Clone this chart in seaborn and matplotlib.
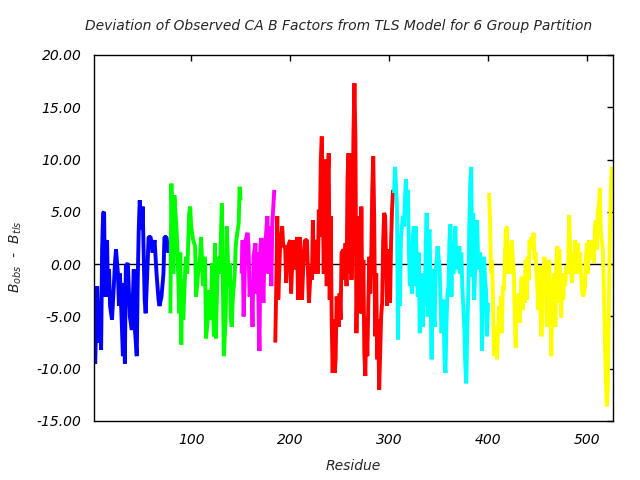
import numpy as np
import matplotlib
matplotlib.use("Agg")
import matplotlib.pyplot as plt
import pandas as pd
import seaborn as sns
from matplotlib.ticker import FormatStrFormatter

# residue numbers and B factor deviations, one pair of lists per TLS group
blue_res = [2, 3, 5, 7, 8, 9, 10, 11, 12, 13, 14, 15, 16, 17, 18, 20, 22, 23, 24, 26,
            27, 28, 30, 31, 32, 33, 34, 36, 38, 40, 41, 42, 43, 45, 46, 47, 48, 50, 51, 53,
            54, 56, 57, 59, 61, 63, 65, 67, 68, 70, 72, 73, 75, 77, 78]
blue_val = [-7.2, -9.5, -2.1, -7.5, -4.7, -8.2, 1.4, 4.9, 5.0, -3.1, 1.7, 2.3, -3.1, -0.5, -4.0, -5.3, -1.8, 0.1, 1.4, -0.9,
            -4.0, -0.9, -6.0, -8.8, -1.8, -9.5, -0.2, 0.1, -5.0, -6.3, -3.4, -0.5, -6.0, -8.8, -1.5, 3.3, 6.1, 3.3, 5.5, -3.4,
            -4.7, 0.1, 2.6, 2.6, 1.1, 2.3, -0.9, -3.4, -4.0, -3.1, -0.9, 2.6, 2.6, 1.1, 1.7]

green_res = [79, 80, 82, 83, 85, 86, 88, 89, 90, 91, 92, 94, 95, 96, 98, 99, 100, 102, 104, 105,
             107, 109, 110, 112, 114, 115, 117, 118, 120, 121, 123, 124, 125, 127, 129, 131, 133, 135, 136, 138,
             139, 140, 141, 142, 144, 145, 146, 148, 149, 150]
green_val = [-4.7, 7.7, -0.9, 6.6, 3.6, 1.7, -4.7, 1.1, -7.7, -1.5, -5.3, -0.5, 0.7, -0.9, 4.9, 5.5, 3.6, 2.3, 1.7, -3.1,
             -0.9, 0.7, 2.6, -2.1, 0.7, -7.1, -5.0, -2.5, -5.3, 0.1, -6.9, 2.0, -7.1, 0.7, -0.9, 5.8, -8.8, -4.7, 3.6, -2.1,
             0.1, -5.0, -6.0, -3.4, -0.9, 1.7, 2.6, 3.9, 7.4, 6.1]

magenta_res = [151, 152, 153, 155, 157, 158, 159, 161, 162, 163, 165, 166, 167, 169, 170, 171, 173, 174, 176, 177,
               178, 180, 181, 182, 184]
magenta_val = [-0.9, 2.3, -5.0, 2.3, 3.0, 1.7, -3.1, -1.8, -6.0, 0.7, 2.0, -2.8, 1.1, -8.3, 1.7, 2.5, -3.7, 0.7, 3.3, 4.6,
               -0.9, 3.6, -2.1, 3.9, 7.1]

red_res = [185, 186, 187, 188, 190, 192, 193, 195, 196, 198, 200, 201, 203, 205, 207, 208, 210, 212, 213, 215,
           217, 218, 219, 221, 222, 223, 224, 225, 227, 228, 229, 230, 231, 232, 234, 235, 236, 237, 238, 239,
           240, 241, 242, 243, 244, 245, 246, 247, 249, 250, 251, 252, 254, 255, 256, 257, 258, 259, 260, 261,
           262, 263, 264, 265, 266, 267, 268, 269, 271, 272, 273, 274, 275, 276, 277, 278, 280, 281, 282, 283,
           284, 285, 286, 287, 288, 289, 290, 292, 293, 294, 295, 296, 298, 299, 300, 301, 302, 303, 304]
red_val = [-7.5, -2.1, 4.6, -3.4, 2.0, 3.6, 1.7, 1.7, -1.8, 1.7, 2.3, -2.8, 2.3, -0.5, 2.6, -3.4, 2.6, -3.4, -0.9, 2.3,
           2.3, -0.5, -3.7, -0.2, -1.5, 4.2, -0.9, 2.3, 1.4, -0.9, 5.2, 2.6, 10.0, 12.2, -0.9, 10.0, 3.6, -2.1, 8.1, 10.6,
           -3.4, 4.6, -5.3, -10.4, -5.3, -10.4, -9.1, -3.1, -6.0, -2.8, -5.3, 1.1, 1.4, -1.5, 2.0, -2.1, 8.1, 10.6, -0.9, 10.6,
           -1.5, 2.3, 12.5, 17.3, 11.9, -6.6, -0.9, 4.6, -4.7, 5.5, -4.7, 0.4, -8.5, -10.7, -5.0, -8.8, 0.7, -2.8, 0.7, 7.1,
           10.3, 4.2, -6.9, -0.9, -9.1, -5.3, -12.0, -5.0, -3.7, 2.0, 4.9, 4.6, -4.0, 1.4, -0.9, -3.7, 2.0, 5.2, 7.1]

cyan_res = [305, 306, 308, 309, 310, 311, 312, 314, 315, 316, 317, 318, 319, 320, 321, 322, 323, 324, 325, 326,
            327, 329, 330, 331, 332, 333, 334, 335, 336, 337, 338, 339, 340, 341, 342, 343, 344, 345, 346, 347,
            348, 349, 350, 351, 352, 353, 355, 356, 357, 358, 359, 360, 361, 362, 363, 364, 365, 367, 368, 369,
            370, 371, 372, 373, 374, 375, 376, 377, 378, 379, 380, 381, 382, 383, 384, 385, 386, 387, 388, 389,
            390, 391, 392, 393, 394, 395, 396, 397, 398, 399, 400]
cyan_val = [6.8, 9.3, 5.5, -7.2, 2.3, -4.0, 2.6, 4.6, 3.6, 6.1, 8.1, 4.9, 7.1, 1.4, -2.1, 0.1, -2.8, 2.6, 3.6, -2.1,
            3.6, -3.1, 1.1, -6.6, -2.1, -0.9, -6.0, -1.8, -4.0, 1.4, 4.9, -5.0, 3.0, 3.3, -3.4, -9.1, -0.5, -4.0, -6.0, -0.9,
            0.4, 1.7, 0.7, -0.2, -3.7, -6.6, -3.4, -9.1, -10.4, -5.6, -2.8, -2.1, 2.3, 3.8, -3.1, 2.0, -0.9, 3.6, -0.5, 1.4,
            -0.2, 1.7, -0.9, 1.1, -2.1, -4.0, -6.0, -9.5, -11.4, -6.3, -2.8, 3.3, 7.7, 9.3, -1.2, 4.9, -3.4, -0.5, 3.3, 4.2,
            0.4, -0.5, 1.1, -0.9, -8.3, -0.2, 0.7, -1.5, -2.5, -6.9, -3.7]

yellow_res = list(range(401, 407)) + list(range(408, 527))
yellow_val = [6.8, 4.2, -0.9, 0.4, -3.4, -8.8,
              -6.0, -9.1, -6.9, -4.0, -6.6, -3.1, -6.6, -2.1, -2.5, 0.4, 3.3, 3.6, -0.9, 1.7, 1.1, -0.9, 2.3, 0.7, -0.5,
              -5.3, -8.0, -3.1, -5.6, -2.8, -5.6, -3.1, -1.2, -4.4, -1.5, -3.7, 0.4, -3.4, 0.7, -1.5, 2.3, 1.4, 2.6, 1.4,
              3.0, 0.4, 1.1, -0.9, -2.5, -4.4, -0.2, -4.7, -6.9, -5.1, -0.9, 0.7, -2.8, 0.4, -6.0, 0.1, 0.4, -4.0, -8.8,
              -1.8, -6.0, -0.9, -6.0, 0.1, 1.7, -3.7, 1.4, -1.8, -5.1, -0.9, -3.4, -0.9, -2.1, -0.2, -0.9, 0.1, 4.7, 1.7,
              -0.9, -1.8, 1.1, -0.9, 2.3, 1.7, -0.9, 2.0, -0.5, 1.1, -0.9, -2.5, -3.1, -2.8, -2.1, 0.7, 2.0, -0.9, 2.3,
              1.1, 2.3, 0.4, 2.0, 0.1, 3.6, 4.2, 1.4, 5.2, 5.5, 7.3, 3.0, 2.3, 1.4, -2.1, -6.6, -10.7, -13.6, -12.0,
              -5.1, 2.0, 6.8, 9.3, 7.4]

groups = ["g1", "g2", "g3", "g4", "g5", "g6"]
colors = ["#0000ff", "#00ff00", "#ff00ff", "#ff0000", "#00ffff", "#ffff00"]

parts = []
for g, r, v in zip(groups,
                   [blue_res, green_res, magenta_res, red_res, cyan_res, yellow_res],
                   [blue_val, green_val, magenta_val, red_val, cyan_val, yellow_val]):
    parts.append(pd.DataFrame({"residue": r, "dev": v, "group": g}))
df = pd.concat(parts, ignore_index=True)

sns.set_style("white")
plt.rcParams["font.family"] = ["DejaVu Sans"]
plt.rcParams["font.style"] = "italic"
plt.rcParams["mathtext.fontset"] = "dejavusans"
plt.rcParams["axes.unicode_minus"] = False
plt.rcParams["lines.solid_joinstyle"] = "bevel"
plt.rcParams["lines.solid_capstyle"] = "butt"

fig = plt.figure(figsize=(6.4, 4.8), dpi=100)
ax = fig.add_axes([94 / 640, 1 - 421 / 480, (613 - 94) / 640, (421 - 55) / 480])

ax.axhline(0, color="black", lw=1.0, zorder=1)
sns.lineplot(data=df, x="residue", y="dev", hue="group", palette=colors,
             estimator=None, sort=False, legend=False, lw=2.8, ax=ax, zorder=2)
for ln in ax.get_lines()[1:]:
    ln.set_solid_joinstyle("bevel")
    ln.set_solid_capstyle("butt")

ax.set_xlim(1.8, 526.3)
ax.set_ylim(-15, 20)
ax.set_xticks([100, 200, 300, 400, 500])
ax.set_yticks(np.arange(-15, 21, 5))
ax.yaxis.set_major_formatter(FormatStrFormatter("%.2f"))
ax.tick_params(direction="in", length=4, width=1, top=True, right=True,
               labelsize=10, colors="black")
ax.tick_params(axis="y", pad=9)
ax.tick_params(axis="x", pad=9)
for lab in ax.get_xticklabels() + ax.get_yticklabels():
    lab.set_fontstyle("italic")
for s in ax.spines.values():
    s.set_color("black")
    s.set_linewidth(1.0)

ax.set_xlabel("Residue", fontsize=10, fontstyle="italic", labelpad=8)
ax.set_ylabel(r"$B_{obs}$  -  $B_{tls}$", fontsize=10)
ax.yaxis.set_label_coords(-0.135, 0.45)
fig.text(339 / 640, 1 - 26 / 480, "Deviation of Observed CA B Factors from TLS Model for 6 Group Partition",
         ha="center", va="center", fontsize=10, fontstyle="italic")

fig.savefig("out.png", dpi=100)
